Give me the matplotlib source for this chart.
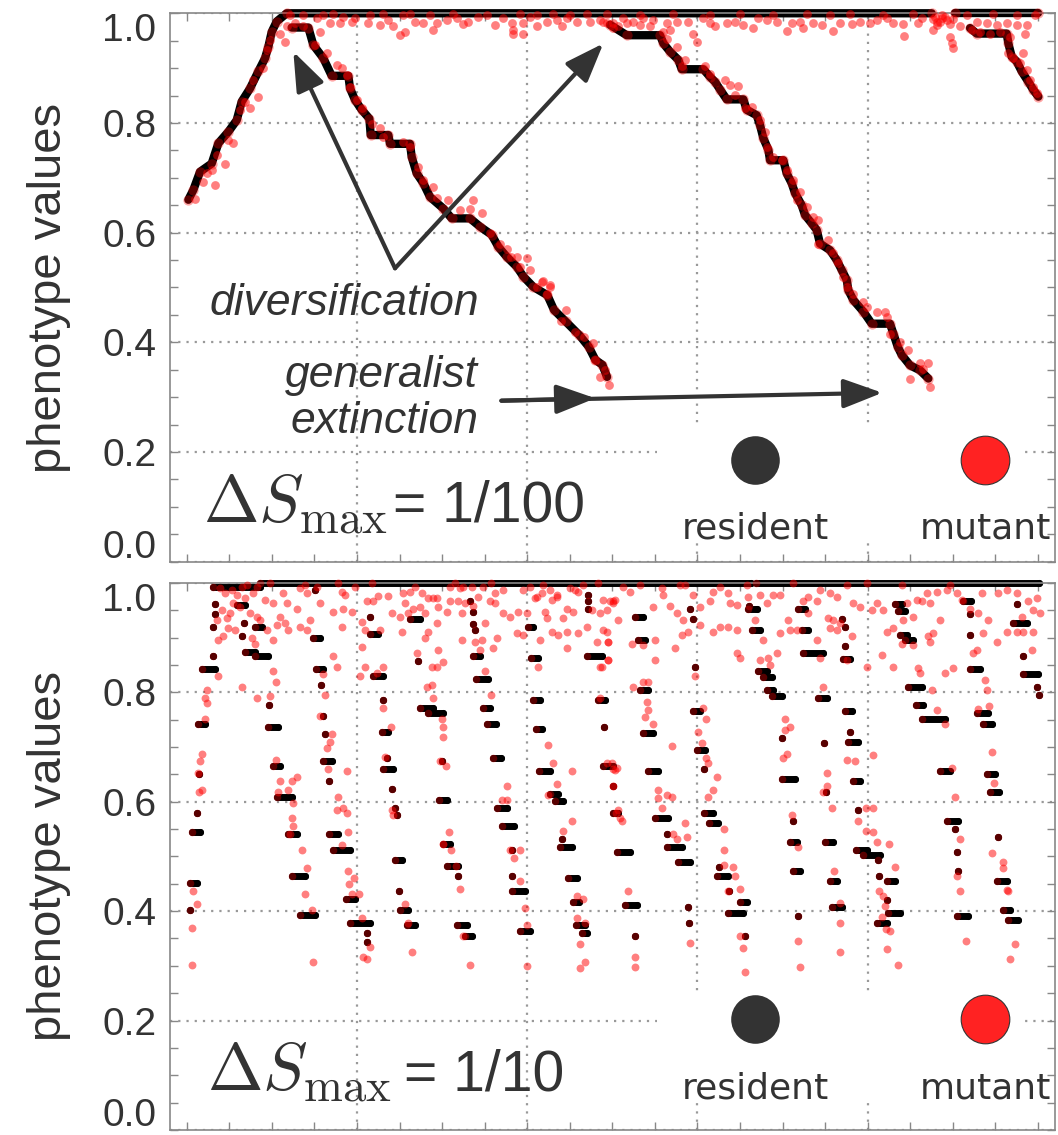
import numpy as np
import matplotlib.pyplot as plt
from matplotlib.patches import Rectangle
from matplotlib.transforms import offset_copy

plt.rcParams['font.family'] = ['Liberation Sans', 'DejaVu Sans']
plt.rcParams['mathtext.fontset'] = 'cm'

T_END = 2554  # length of the run (generations)

# ---------------- top panel: dS_max = 1/100 ----------------
# resident lineages (time, phenotype)
top_root_t = [5, 20, 40, 75, 95, 125, 150, 165, 190, 215, 235, 245, 255, 270, 300, 2235]
top_root_y = [0.660, 0.678, 0.711, 0.726, 0.763, 0.784, 0.805, 0.839, 0.863,
              0.894, 0.918, 0.939, 0.966, 0.985, 1.0, 1.0]
top_gen_t = [2305, 2554]
top_gen_y = [1.0, 1.0]
top_b1_t = [315, 365, 380, 410, 435, 485, 490, 505, 525, 548, 552, 605, 610, 670, 675, 690,
            710, 730, 770, 795, 850, 880, 915, 935, 960, 990, 1010, 1040, 1082, 1102, 1137,
            1178, 1206, 1226, 1247, 1261]
top_b1_y = [0.974, 0.974, 0.942, 0.918, 0.886, 0.886, 0.863, 0.842, 0.824, 0.808, 0.778,
            0.778, 0.762, 0.762, 0.738, 0.708, 0.690, 0.665, 0.644, 0.626, 0.626, 0.611,
            0.596, 0.574, 0.556, 0.538, 0.520, 0.501, 0.486, 0.459, 0.438, 0.413, 0.392,
            0.368, 0.359, 0.337]
top_b2_t = [1270, 1320, 1420, 1430, 1450, 1475, 1485, 1550, 1570, 1585, 1600, 1620, 1670,
            1680, 1710, 1720, 1730, 1745, 1750, 1790, 1800, 1815, 1825, 1845, 1855, 1875,
            1890, 1900, 1930, 1950, 1965, 1980, 1985, 2000, 2030, 2055, 2110, 2120, 2133,
            2145, 2170, 2200, 2225]
top_b2_y = [0.979, 0.960, 0.960, 0.945, 0.930, 0.915, 0.898, 0.898, 0.884, 0.875, 0.861,
            0.843, 0.843, 0.824, 0.814, 0.796, 0.772, 0.751, 0.732, 0.732, 0.708, 0.690,
            0.672, 0.650, 0.632, 0.617, 0.605, 0.580, 0.568, 0.550, 0.532, 0.514, 0.495,
            0.477, 0.456, 0.434, 0.434, 0.416, 0.392, 0.377, 0.358, 0.349, 0.334]
top_b3_t = [2350, 2370, 2460, 2465, 2475, 2490, 2505, 2525, 2540, 2555]
top_b3_y = [0.973, 0.963, 0.963, 0.945, 0.921, 0.912, 0.894, 0.875, 0.860, 0.848]

# mutants (time, phenotype)
top_mutants = [
    # just below the generalist
    (390, 0.991), (400, 0.966), (430, 0.983), (460, 0.983), (470, 0.994), (495, 0.985),
    (505, 0.991), (545, 0.983), (580, 0.979), (605, 0.988), (620, 0.976), (640, 0.960),
    (655, 0.965), (685, 0.985), (710, 0.983), (740, 0.970), (750, 0.982), (780, 0.987),
    (810, 0.991), (830, 0.980), (845, 0.985), (875, 0.994), (925, 0.979), (950, 0.991),
    (975, 0.982), (980, 0.970), (980, 0.963), (1010, 0.963), (1010, 0.982), (1030, 0.994),
    (1050, 0.976), (1080, 0.985), (1110, 0.988), (1125, 0.976), (1140, 0.991), (1170, 0.985),
    (1210, 0.985), (1240, 0.988), (1280, 0.982), (1295, 0.976),
    (1250, 0.985), (1310, 0.991), (1340, 0.985), (1370, 0.991), (1400, 0.988), (1440, 0.982),
    (1450, 0.970), (1470, 0.985), (1505, 0.985), (1520, 0.963), (1530, 0.948), (1550, 0.991),
    (1570, 0.982), (1585, 0.976), (1620, 0.983), (1645, 0.985), (1670, 0.979), (1700, 0.973),
    (1715, 0.991), (1740, 0.988), (1770, 0.985), (1800, 0.968), (1815, 0.982), (1840, 0.985),
    (1850, 0.973), (1880, 0.982), (1905, 0.979), (1940, 0.968), (1960, 0.982), (1995, 0.980),
    (2020, 0.985), (2050, 0.982), (2070, 0.988), (2100, 0.991), (2120, 0.982), (2150, 0.980),
    (2152, 0.959), (2195, 0.982), (2205, 0.991), (2240, 0.970), (2250, 0.985), (2265, 0.991),
    (2280, 0.988), (2290, 0.957), (2295, 0.945), (2300, 0.936), (2320, 0.976), (2370, 0.985),
    (2400, 0.982), (2430, 0.979), (2460, 0.982), (2490, 0.979), (2520, 0.979), (2515, 0.963),
    (2545, 0.997),
    (310, 0.997), (350, 0.997), (410, 0.997), (440, 0.998), (550, 0.997), (590, 0.998),
    (650, 0.997), (670, 0.998), (730, 0.997), (800, 0.998), (900, 0.997), (1000, 0.998),
    (1050, 0.997), (1100, 0.998), (1150, 0.997), (1200, 0.998), (1260, 0.998), (1360, 0.997),
    (1460, 0.998), (1570, 0.997), (1660, 0.998), (1760, 0.997), (1860, 0.998), (1930, 0.997),
    (1990, 0.998), (2090, 0.997), (2180, 0.998), (2340, 0.997), (2420, 0.998), (2490, 0.997),
    (2245, 0.993), (2260, 0.985), (2275, 0.993), (2290, 0.980), (2250, 0.978), (2265, 0.997),
    (2240, 0.990), (2300, 0.990),
    # around the root and first branch
    (25, 0.661), (50, 0.693), (60, 0.708), (75, 0.714), (85, 0.687), (90, 0.742), (115, 0.726),
    (125, 0.769), (140, 0.763), (160, 0.824), (175, 0.839), (190, 0.827), (200, 0.878),
    (215, 0.848), (230, 0.900), (240, 0.933), (250, 0.951), (280, 0.963), (295, 0.948),
    (300, 0.976), (325, 0.982), (350, 0.976), (385, 0.942), (420, 0.927), (450, 0.906),
    (465, 0.900), (480, 0.887), (490, 0.866), (510, 0.842), (525, 0.827), (555, 0.799),
    (580, 0.790), (590, 0.775), (650, 0.766), (670, 0.757), (695, 0.720), (710, 0.696),
    (740, 0.684), (750, 0.663), (785, 0.659), (820, 0.641), (850, 0.644), (860, 0.659),
    (885, 0.635), (910, 0.599), (940, 0.580), (960, 0.571), (990, 0.556), (1020, 0.553),
    (1030, 0.532), (1065, 0.510), (1090, 0.501), (1080, 0.489), (1050, 0.501),
    (972, 0.556), (999, 0.538), (1068, 0.511), (1089, 0.505), (1137, 0.459), (1123, 0.438),
    (1164, 0.419), (1192, 0.410), (1220, 0.398), (1226, 0.368), (1254, 0.349), (1268, 0.322),
    (1240, 0.337),
    # around the second branch
    (1260, 0.982), (1280, 0.973), (1320, 0.982), (1360, 0.979), (1390, 0.976), (1430, 0.966),
    (1440, 0.954), (1470, 0.939), (1495, 0.915), (1485, 0.903), (1555, 0.903), (1570, 0.890),
    (1615, 0.878), (1630, 0.869), (1655, 0.867), (1645, 0.851), (1675, 0.827), (1695, 0.830),
    (1720, 0.805), (1735, 0.784), (1740, 0.757), (1760, 0.738), (1785, 0.732), (1800, 0.714),
    (1820, 0.696), (1840, 0.675), (1830, 0.659), (1860, 0.647), (1880, 0.629), (1895, 0.623),
    (1895, 0.580), (1925, 0.586), (1940, 0.562), (1955, 0.544), (1970, 0.520), (1980, 0.501),
    (2000, 0.489), (2030, 0.474), (2040, 0.465), (2070, 0.456), (2095, 0.456), (2100, 0.447),
    (2110, 0.416), (2140, 0.401), (2165, 0.386), (2200, 0.362), (2225, 0.362), (2210, 0.352),
    (2170, 0.334), (2230, 0.319),
    # around the third branch
    (2355, 0.969), (2380, 0.966), (2410, 0.963), (2440, 0.966), (2465, 0.927), (2480, 0.918),
    (2510, 0.927), (2500, 0.909), (2520, 0.897), (2530, 0.878), (2540, 0.866), (2550, 0.854),
    (2470, 0.957),
]

# ---------------- bottom panel: dS_max = 1/10 ----------------
# resident phenotypes held from t0 to t1: (t0, t1, phenotype)
bot_residents = [
    (80, 220, 0.992), (220, 1692, 1.0), (1708, 2556, 1.0),
    (10, 10, 0.402), (10, 30, 0.451), (15, 40, 0.545), (30, 30, 0.579), (38, 38, 0.651),
    (35, 55, 0.742), (45, 85, 0.842), (78, 78, 0.866), (78, 78, 0.919), (85, 85, 0.943),
    (85, 85, 0.961),
    (150, 175, 0.960), (172, 172, 0.926), (165, 165, 0.902), (175, 205, 0.874),
    (205, 245, 0.866), (205, 225, 0.919), (248, 248, 0.776), (245, 275, 0.737),
    (260, 280, 0.665), (270, 315, 0.608), (305, 330, 0.541), (315, 355, 0.465),
    (340, 385, 0.393),
    (385, 385, 0.986), (380, 400, 0.899), (388, 410, 0.842), (402, 402, 0.813),
    (408, 408, 0.757), (415, 415, 0.723), (410, 435, 0.675), (428, 428, 0.637),
    (428, 455, 0.541), (440, 490, 0.512), (478, 505, 0.422), (490, 550, 0.378),
    (542, 542, 0.360), (542, 542, 0.344),
    (550, 550, 0.938), (550, 575, 0.907), (560, 590, 0.829), (590, 590, 0.785),
    (585, 605, 0.727), (600, 600, 0.679), (590, 620, 0.660), (615, 615, 0.623),
    (625, 625, 0.589), (630, 630, 0.575), (625, 645, 0.494), (637, 637, 0.436),
    (640, 665, 0.402), (660, 685, 0.374),
    (670, 700, 0.934), (695, 695, 0.858), (700, 740, 0.771), (725, 770, 0.762),
    (765, 765, 0.675), (758, 780, 0.603), (770, 790, 0.522), (780, 815, 0.483),
    (815, 815, 0.465), (812, 840, 0.374), (835, 855, 0.355),
    (850, 850, 0.967), (858, 858, 0.947), (858, 858, 0.925), (865, 865, 0.914),
    (860, 880, 0.866), (868, 905, 0.824), (890, 910, 0.771), (900, 928, 0.742),
    (920, 942, 0.679), (932, 960, 0.589), (945, 982, 0.556), (975, 975, 0.512),
    (975, 975, 0.465), (975, 1015, 0.436), (1000, 1030, 0.364),
    (1025, 1040, 0.919), (1032, 1053, 0.862), (1040, 1060, 0.785), (1048, 1065, 0.732),
    (1058, 1090, 0.656), (1090, 1115, 0.614), (1105, 1130, 0.601), (1125, 1125, 0.532),
    (1120, 1155, 0.517), (1145, 1170, 0.460), (1158, 1178, 0.416), (1168, 1195, 0.374),
    (1185, 1200, 0.360),
    (1203, 1203, 0.977), (1203, 1203, 0.966), (1203, 1203, 0.953), (1200, 1245, 0.866),
    (1235, 1255, 0.785), (1253, 1253, 0.737), (1250, 1280, 0.665), (1280, 1280, 0.628),
    (1278, 1295, 0.579), (1290, 1330, 0.508), (1315, 1350, 0.412), (1345, 1345, 0.355),
    (1345, 1370, 0.938), (1355, 1375, 0.896), (1360, 1385, 0.804), (1370, 1398, 0.725),
    (1385, 1415, 0.656), (1405, 1445, 0.570), (1440, 1440, 0.541), (1440, 1485, 0.517),
    (1475, 1510, 0.489), (1503, 1503, 0.407), (1508, 1508, 0.378),
    (1510, 1510, 0.952), (1518, 1518, 0.933), (1525, 1525, 0.847), (1520, 1540, 0.766),
    (1530, 1555, 0.695), (1553, 1553, 0.660), (1552, 1578, 0.579), (1568, 1595, 0.561),
    (1597, 1597, 0.480), (1592, 1625, 0.465), (1628, 1628, 0.436), (1625, 1670, 0.397),
    (1660, 1680, 0.416), (1675, 1675, 0.355),
    (1688, 1688, 0.958), (1685, 1710, 0.952), (1695, 1720, 0.914), (1715, 1740, 0.838),
    (1730, 1755, 0.827), (1740, 1760, 0.804), (1755, 1785, 0.794), (1785, 1785, 0.716),
    (1785, 1825, 0.641), (1818, 1818, 0.565), (1810, 1830, 0.527), (1820, 1840, 0.474),
    (1833, 1833, 0.392),
    (1835, 1855, 0.952), (1845, 1865, 0.914), (1850, 1910, 0.871), (1895, 1920, 0.790),
    (1912, 1912, 0.708), (1918, 1918, 0.617), (1915, 1940, 0.527), (1930, 1950, 0.455),
    (1935, 1965, 0.407),
    (1965, 1965, 0.933), (1975, 1975, 0.919), (1975, 1975, 0.885), (1970, 1990, 0.860),
    (1975, 1995, 0.766), (1990, 1990, 0.727), (1985, 2015, 0.709), (1998, 2020, 0.637),
    (2013, 2013, 0.584), (2008, 2040, 0.512), (2030, 2080, 0.503), (2075, 2075, 0.494),
    (2078, 2078, 0.464), (2100, 2125, 0.455), (2100, 2100, 0.421), (2105, 2140, 0.397),
    (2070, 2100, 0.378),
    (2125, 2145, 0.962), (2135, 2155, 0.948), (2140, 2160, 0.905), (2155, 2180, 0.896),
    (2165, 2205, 0.809), (2188, 2210, 0.776), (2205, 2275, 0.751), (2260, 2290, 0.656),
    (2280, 2315, 0.565), (2305, 2305, 0.551), (2312, 2312, 0.508), (2315, 2315, 0.474),
    (2310, 2345, 0.392),
    (2330, 2352, 0.967), (2350, 2350, 0.943), (2350, 2350, 0.905), (2350, 2380, 0.842),
    (2370, 2405, 0.762), (2390, 2415, 0.742), (2400, 2425, 0.651), (2410, 2438, 0.618),
    (2435, 2435, 0.536), (2430, 2462, 0.455), (2450, 2470, 0.402), (2465, 2495, 0.383),
    (2490, 2490, 0.962), (2480, 2520, 0.926), (2510, 2510, 0.866), (2510, 2555, 0.833),
    (2550, 2550, 0.809), (2558, 2558, 0.795),
]

bot_mutants = [
    (100, 0.990), (115, 0.981), (135, 0.987), (150, 0.978), (165, 0.993), (180, 0.996),
    (200, 0.981), (210, 0.993), (250, 0.999), (290, 0.981), (340, 0.990), (355, 0.996),
    (360, 0.981), (390, 0.993), (455, 1.000), (465, 0.984), (475, 0.978), (505, 0.993),
    (555, 1.000), (650, 0.981), (670, 0.984), (685, 0.993), (705, 0.981), (740, 0.972),
    (790, 0.993), (805, 0.999), (820, 0.990), (830, 0.993), (855, 0.993), (890, 0.993),
    (912, 0.999), (925, 0.981), (950, 0.987), (1010, 0.987), (1030, 0.993), (1045, 0.972),
    (1065, 0.981), (1070, 0.996), (1090, 0.987), (1110, 0.978), (1150, 0.990), (1165, 0.987),
    (1190, 0.996), (1235, 0.999), (1270, 0.966), (1285, 0.969),
    (90, 0.932), (105, 0.950), (120, 0.935), (130, 0.944), (140, 0.963), (160, 0.956),
    (175, 0.972), (190, 0.944), (210, 0.938), (220, 0.932), (235, 0.969), (260, 0.963),
    (280, 0.938), (300, 0.963), (330, 0.953), (370, 0.932), (400, 0.963), (440, 0.947),
    (470, 0.953), (495, 0.947), (525, 0.929), (540, 0.966), (560, 0.966), (575, 0.976),
    (605, 0.976), (615, 0.944), (640, 0.938), (655, 0.963), (665, 0.944), (680, 0.953),
    (700, 0.956), (715, 0.944), (725, 0.972), (750, 0.972), (755, 0.956), (780, 0.947),
    (790, 0.967), (815, 0.966), (825, 0.944), (835, 0.963), (860, 0.958), (875, 0.975),
    (895, 0.926), (910, 0.966), (925, 0.963), (950, 0.944), (970, 0.938), (995, 0.947),
    (1020, 0.944), (1050, 0.975), (1075, 0.947), (1080, 0.935), (1095, 0.969), (1110, 0.975),
    (1130, 0.935), (1140, 0.953), (1160, 0.947), (1175, 0.984), (1215, 0.950), (1240, 0.944),
    (1260, 0.950), (1280, 0.963), (1295, 0.932),
    (95, 0.896), (110, 0.902), (125, 0.917), (145, 0.914), (195, 0.899), (205, 0.889),
    (240, 0.914), (260, 0.896), (270, 0.923), (295, 0.926), (305, 0.914), (340, 0.920),
    (360, 0.914), (440, 0.866), (450, 0.847), (465, 0.920), (525, 0.883), (535, 0.847),
    (520, 0.829), (535, 0.914), (580, 0.914), (590, 0.847), (645, 0.911), (690, 0.871),
    (715, 0.899), (725, 0.911), (750, 0.847), (735, 0.847), (755, 0.877), (750, 0.926),
    (770, 0.856), (825, 0.896), (865, 0.892), (885, 0.896), (880, 0.877), (895, 0.838),
    (920, 0.880), (930, 0.899), (990, 0.908), (1010, 0.905), (1055, 0.847), (1060, 0.896),
    (1095, 0.911), (1115, 0.905), (1140, 0.880), (1140, 0.911), (1175, 0.908), (1200, 0.920),
    (1230, 0.892), (1250, 0.914), (1265, 0.892), (1240, 0.847), (1265, 0.859),
    (60, 0.804), (55, 0.789), (62, 0.780), (55, 0.752), (45, 0.688), (40, 0.675), (35, 0.652),
    (45, 0.621), (38, 0.618), (95, 0.829), (165, 0.809), (212, 0.790), (250, 0.794),
    (260, 0.838), (268, 0.818), (268, 0.676), (280, 0.637), (275, 0.618), (305, 0.621),
    (315, 0.637), (330, 0.646), (410, 0.833), (415, 0.795), (400, 0.757), (435, 0.723),
    (430, 0.710), (420, 0.699), (425, 0.660), (480, 0.656), (570, 0.835), (588, 0.771),
    (612, 0.737), (595, 0.681), (720, 0.810), (735, 0.813), (740, 0.790), (765, 0.751),
    (770, 0.737), (770, 0.719), (760, 0.675), (778, 0.665), (912, 0.795), (960, 0.628),
    (945, 0.603), (960, 0.603), (1085, 0.704), (1100, 0.670), (1110, 0.632), (1085, 0.612),
    (1155, 0.656), (1240, 0.789), (1260, 0.670), (1275, 0.670), (1285, 0.658), (1280, 0.628),
    (455, 0.608), (470, 0.589), (450, 0.585), (480, 0.580), (485, 0.545), (465, 0.521),
    (315, 0.570), (320, 0.556), (310, 0.541), (320, 0.598), (345, 0.512), (360, 0.478),
    (620, 0.575), (615, 0.585), (788, 0.545), (770, 0.522), (793, 0.512), (808, 0.483),
    (820, 0.440), (970, 0.512), (1000, 0.512), (982, 0.498), (1130, 0.546), (1155, 0.565),
    (1288, 0.579),
    (20, 0.436), (30, 0.413), (15, 0.369), (15, 0.302), (355, 0.431), (375, 0.402),
    (378, 0.307), (485, 0.474), (503, 0.460), (488, 0.450), (495, 0.431), (518, 0.431),
    (525, 0.387), (530, 0.317), (542, 0.312), (550, 0.335), (655, 0.413), (665, 0.378),
    (675, 0.326), (830, 0.355), (850, 0.302), (1000, 0.455), (1015, 0.405), (1022, 0.374),
    (1022, 0.299), (1170, 0.427), (1188, 0.422), (1172, 0.388), (1195, 0.378), (1180, 0.340),
    (1195, 0.307), (1180, 0.296),
    (1250, 0.969), (1280, 0.966), (1310, 0.993), (1330, 0.984), (1360, 0.996), (1400, 0.956),
    (1425, 0.990), (1430, 0.978), (1450, 0.958), (1470, 0.944), (1480, 0.996), (1495, 0.996),
    (1490, 0.932), (1520, 0.978), (1540, 0.956), (1570, 0.966), (1580, 0.984), (1600, 0.993),
    (1625, 0.981), (1630, 0.963), (1650, 0.959), (1680, 0.996), (1685, 0.975), (1705, 0.932),
    (1720, 0.978), (1740, 0.963), (1760, 0.978), (1780, 0.978), (1805, 0.932), (1820, 0.999),
    (1850, 0.966), (1865, 0.975), (1890, 0.966), (1900, 0.987), (1930, 0.981), (1940, 0.932),
    (1950, 0.975), (1960, 0.926), (1980, 0.996), (2000, 0.963), (2020, 0.956), (2040, 0.999),
    (2055, 0.950), (2070, 0.963), (2090, 0.950), (2100, 0.911), (2120, 0.917), (2145, 0.996),
    (2150, 0.932), (2160, 0.963), (2180, 0.938), (2190, 0.969), (2205, 0.966), (2220, 0.981),
    (2230, 0.963), (2250, 0.984), (2260, 0.932), (2280, 0.987), (2290, 0.996), (2310, 0.981),
    (2325, 0.969), (2350, 0.953), (2375, 0.944), (2385, 0.981), (2405, 0.932), (2435, 0.981),
    (2460, 0.987), (2490, 0.981), (2505, 0.938), (2525, 0.966), (2540, 0.950), (2550, 0.972),
    (2560, 0.944), (2540, 0.911),
    (1260, 0.911), (1265, 0.891), (1265, 0.859), (1245, 0.847), (1370, 0.886), (1335, 0.889),
    (1405, 0.896), (1405, 0.859), (1465, 0.880), (1485, 0.905), (1505, 0.911), (1540, 0.923),
    (1580, 0.911), (1600, 0.920), (1625, 0.920), (1650, 0.914), (1650, 0.871), (1660, 0.862),
    (1720, 0.859), (1730, 0.896), (1745, 0.862), (1750, 0.850), (1770, 0.871), (1780, 0.908),
    (1810, 0.914), (1830, 0.914), (1865, 0.944), (1890, 0.896), (1900, 0.862), (1925, 0.935),
    (1930, 0.917), (1950, 0.914), (1980, 0.859), (1995, 0.902), (2040, 0.847), (2085, 0.868),
    (2120, 0.847), (2145, 0.889), (2180, 0.886), (2195, 0.844), (2200, 0.835), (2225, 0.902),
    (2230, 0.892), (2240, 0.908), (2275, 0.835), (2300, 0.844), (2360, 0.871), (2370, 0.877),
    (2390, 0.908), (2430, 0.892), (2460, 0.911), (2490, 0.911), (2510, 0.911), (2535, 0.877),
    (1340, 0.810), (1370, 0.819), (1385, 0.819), (1380, 0.783), (1385, 0.768), (1375, 0.755),
    (1400, 0.742), (1455, 0.701), (1525, 0.829), (1550, 0.771), (1558, 0.751), (1535, 0.728),
    (1545, 0.707), (1558, 0.679), (1565, 0.670), (1590, 0.646), (1795, 0.751), (1810, 0.737),
    (1795, 0.731), (1790, 0.679), (1800, 0.688), (1908, 0.810), (1920, 0.652), (1980, 0.676),
    (2005, 0.675), (2235, 0.804), (2250, 0.768), (2275, 0.742), (2395, 0.822), (2402, 0.804),
    (2408, 0.775), (2415, 0.690), (2422, 0.634), (2375, 0.769), (2295, 0.661), (2060, 0.685),
    (1280, 0.659), (1290, 0.661), (1295, 0.585), (1300, 0.570), (1305, 0.564), (1415, 0.621),
    (1415, 0.606), (1440, 0.612), (1455, 0.609), (1425, 0.589), (1460, 0.541), (1470, 0.531),
    (1495, 0.561), (1502, 0.536), (1565, 0.608), (1580, 0.621), (1613, 0.551), (1612, 0.512),
    (1612, 0.484), (1640, 0.480), (1645, 0.465), (1815, 0.575), (1833, 0.517), (1908, 0.617),
    (1935, 0.589), (1942, 0.474), (1920, 0.628), (2038, 0.589), (2060, 0.589), (2015, 0.565),
    (2038, 0.546), (2058, 0.545), (2070, 0.527), (2108, 0.522), (2125, 0.480), (2305, 0.608),
    (2320, 0.531), (2312, 0.465), (2415, 0.506), (2450, 0.489), (2448, 0.478), (2460, 0.439),
    (2465, 0.436),
    (1323, 0.436), (1345, 0.317), (1345, 0.298), (1510, 0.341), (1625, 0.436), (1660, 0.440),
    (1670, 0.332), (1660, 0.354), (1835, 0.345), (1840, 0.298), (1960, 0.378), (1960, 0.326),
    (1960, 0.414), (2078, 0.436), (2090, 0.427), (2095, 0.410), (2085, 0.390), (2098, 0.367),
    (2110, 0.364), (2100, 0.330), (2133, 0.302), (2320, 0.436), (2337, 0.345), (2470, 0.312),
    (2485, 0.340), (1675, 0.288),
]

INK = '#333333'
EDGE = '#888888'

fig = plt.figure(figsize=(10.58, 11.35), dpi=100)
ax1 = fig.add_axes([0.1607, 0.5051, 0.8365, 0.4832])
ax2 = fig.add_axes([0.1607, 0.0044, 0.8365, 0.4821])


def style_axes(ax):
    ax.set_xlim(-50, 2605)
    ax.set_ylim(0, 1.0)
    ax.set_xticks(np.linspace(0, T_END, 6)[1:-1])
    ax.set_xticks(np.linspace(0, T_END, 21), minor=True)
    ax.set_yticks(np.arange(0, 1.01, 0.2))
    ax.set_yticks(np.arange(0, 1.01, 0.05), minor=True)
    ax.set_yticklabels(['%.1f' % v for v in np.arange(0, 1.01, 0.2)])
    ax.tick_params(which='both', direction='in', top=True, right=True, length=6,
                   width=1, color=EDGE, labelbottom=False, labelsize=28,
                   labelcolor=INK, pad=10)
    ax.grid(True, which='major', ls=(0, (1, 2.7)), lw=1.6, color='#999999')
    for sp in ax.spines.values():
        sp.set_color(EDGE)
        sp.set_linewidth(1.2)
    ticks = ax.yaxis.get_major_ticks()
    lab0 = ticks[0].label1
    lab0.set_verticalalignment('baseline')
    lab0.set_transform(offset_copy(lab0.get_transform(), fig=fig, y=4, units='dots'))
    ticks[-1].label1.set_verticalalignment('top')
    ax.set_ylabel('phenotype values', fontsize=34, color=INK)
    ax.yaxis.set_label_coords(-0.112, 0.5)


def draw_legend(ax, y_mark, y_text):
    ax.add_patch(Rectangle((0.55, y_text - 0.005), 0.415, 0.245 - y_text + 0.005,
                           transform=ax.transAxes, facecolor='white',
                           edgecolor='none', zorder=1.7))
    ax.plot([0.661], [y_mark], 'o', ms=35, color=INK, mew=0,
            transform=ax.transAxes, clip_on=False, zorder=6)
    ax.plot([0.921], [y_mark], 'o', ms=35, color='#ff2222', mec=INK, mew=0.8,
            transform=ax.transAxes, clip_on=False, zorder=6)
    for x, lab in [(0.661, 'resident'), (0.921, 'mutant')]:
        ax.text(x, y_text, lab, transform=ax.transAxes, ha='center', va='baseline',
                fontsize=26, color=INK, family=['DejaVu Sans'], zorder=6)


def draw_label(ax, x_math, x_val, value):
    ax.text(x_math, 0.073, r'$\Delta S_{\rm max}$', transform=ax.transAxes,
            fontsize=48, color=INK, ha='left', va='baseline', zorder=5)
    ax.text(x_val, 0.073, '= ' + value, transform=ax.transAxes,
            fontsize=41, color=INK, ha='left', va='baseline', zorder=5)


# ---- top panel
for t, y in [(top_root_t, top_root_y), (top_gen_t, top_gen_y), (top_b1_t, top_b1_y),
             (top_b2_t, top_b2_y), (top_b3_t, top_b3_y)]:
    ax1.plot(t, y, color='black', lw=6, solid_capstyle='round',
             solid_joinstyle='round', clip_on=False, zorder=2)
    ax1.scatter(t, y, s=55, color='red', alpha=0.35, lw=0, clip_on=False, zorder=3)
tm = np.array(top_mutants)
ax1.scatter(tm[:, 0], tm[:, 1], s=40, color='red', alpha=0.5, lw=0, clip_on=False,
            zorder=3)

arrow = dict(arrowstyle='-|>,head_length=1.2,head_width=0.45', lw=3, color=INK,
             mutation_scale=20, shrinkA=0, shrinkB=0)
ax1.annotate('', xy=(320, 0.930), xytext=(625, 0.535), arrowprops=arrow, zorder=4)
ax1.annotate('', xy=(1250, 0.945), xytext=(625, 0.535), arrowprops=arrow, zorder=4)
ax1.annotate('', xy=(2087, 0.308), xytext=(944, 0.2936), arrowprops=arrow, zorder=4)
ax1.annotate('', xy=(1226, 0.298), xytext=(944, 0.2936), arrowprops=arrow, zorder=4)
ax1.text(472, 0.450, 'diversification', style='italic', fontsize=32, color=INK,
         ha='center', va='baseline', zorder=5)
ax1.text(875, 0.319, 'generalist', style='italic', fontsize=32, color=INK,
         ha='right', va='baseline', zorder=5)
ax1.text(875, 0.234, 'extinction', style='italic', fontsize=32, color=INK,
         ha='right', va='baseline', zorder=5)
draw_label(ax1, 0.037, 0.252, '1/100')
draw_legend(ax1, 0.1855, 0.043)
style_axes(ax1)

# ---- bottom panel
seg = np.array(bot_residents)
ax2.hlines(seg[:, 2], seg[:, 0], seg[:, 1], colors='black', lw=5, capstyle='round',
           clip_on=False, zorder=2)
ax2.scatter(np.r_[seg[:, 0], seg[:, 1]], np.r_[seg[:, 2], seg[:, 2]], s=26,
            color='black', lw=0, clip_on=False, zorder=2)
ax2.scatter(seg[:, 0], seg[:, 2], s=30, color='red', alpha=0.35, lw=0, clip_on=False,
            zorder=3)
bm = np.array(bot_mutants)
ax2.scatter(bm[:, 0], bm[:, 1], s=32, color='red', alpha=0.5, lw=0, clip_on=False,
            zorder=3)
draw_label(ax2, 0.0415, 0.264, '1/10')
draw_legend(ax2, 0.203, 0.058)
style_axes(ax2)

fig.savefig('out.png', dpi=100)
